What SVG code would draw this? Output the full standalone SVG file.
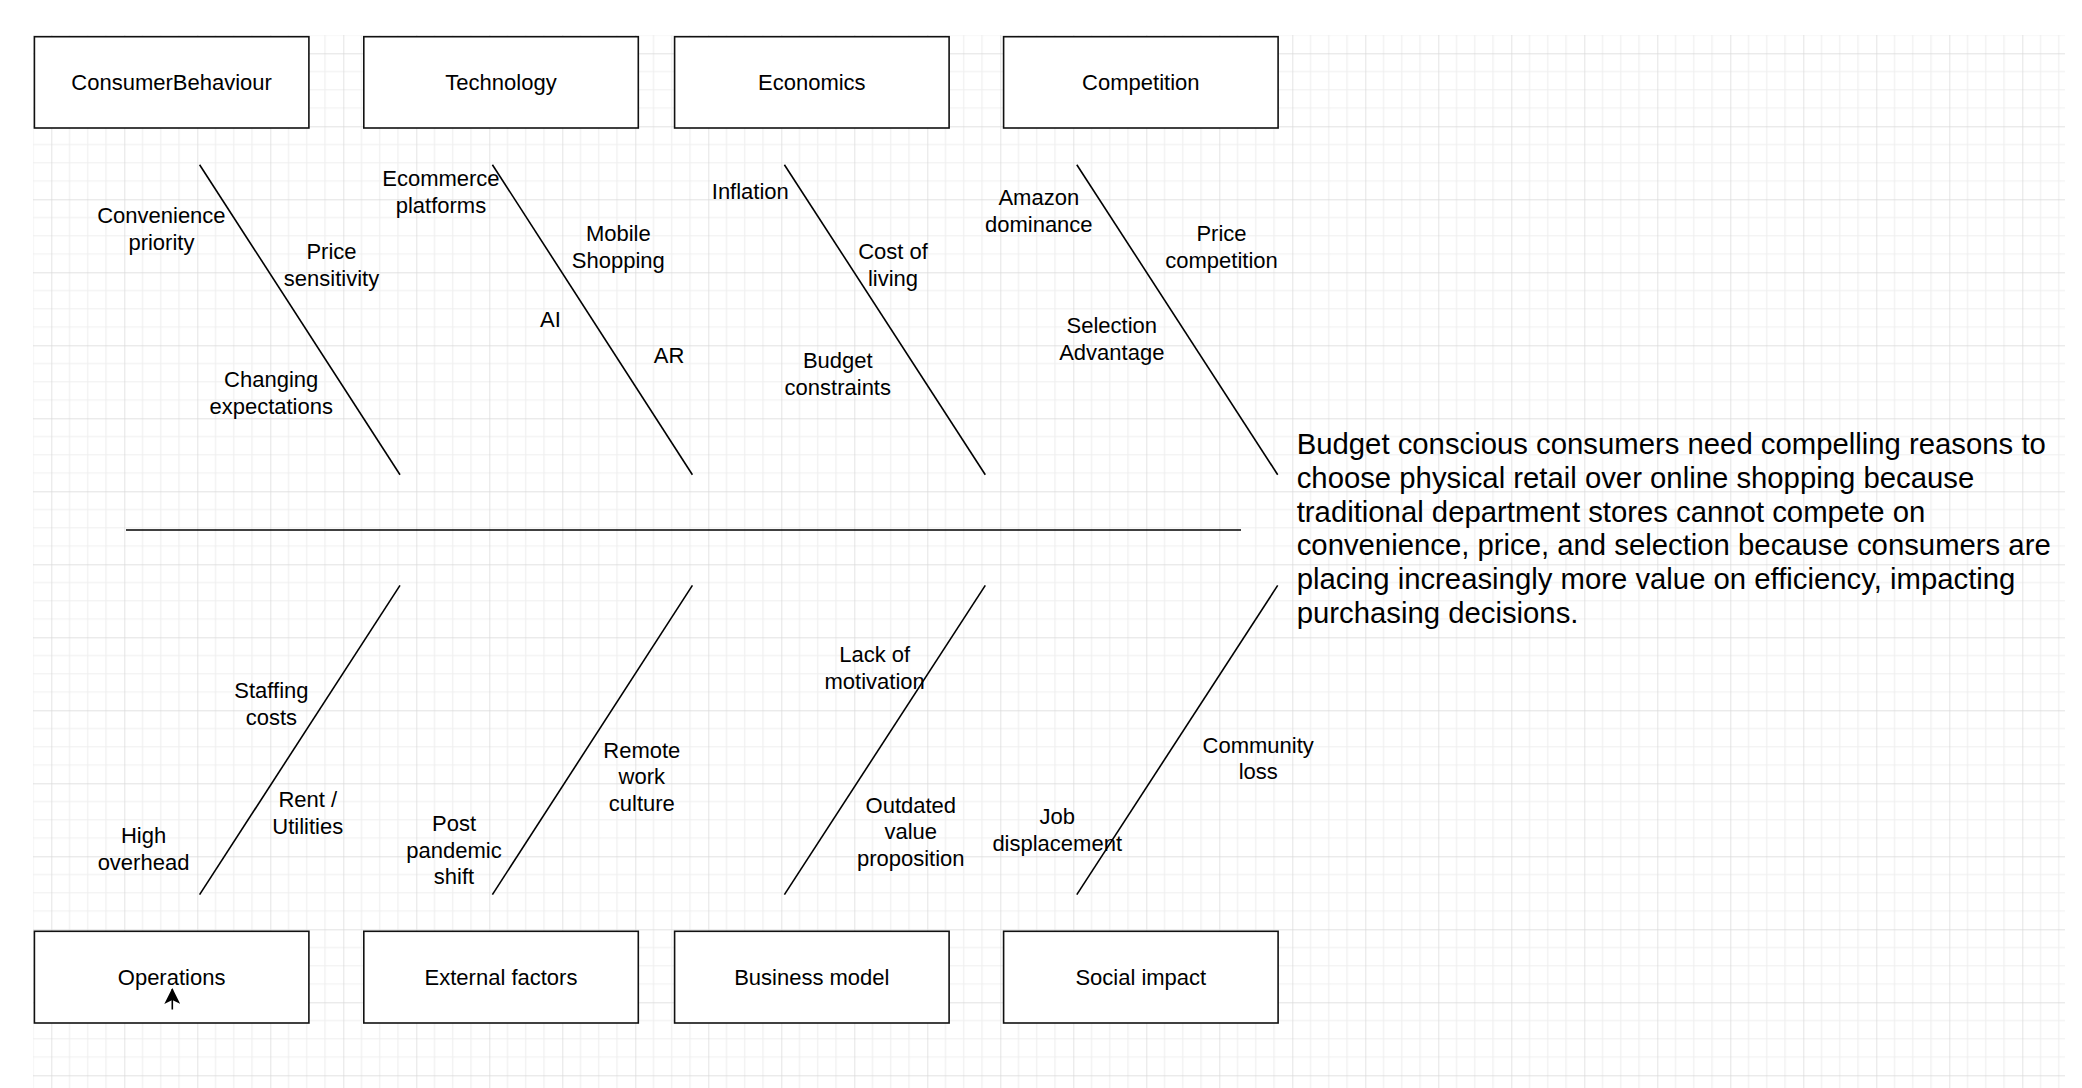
<svg xmlns="http://www.w3.org/2000/svg" width="2082" height="1088" viewBox="0 0 2082 1088">
<defs>
<pattern id="grid" patternUnits="userSpaceOnUse" x="51.3" y="53.3" width="73" height="73">
<path d="M18.25 0V73M36.5 0V73M54.75 0V73M0 18.25H73M0 36.5H73M0 54.75H73" stroke="#efefef" stroke-width="1.2" fill="none"/>
<path d="M0 0V73M0 0H73" stroke="#d9d9d9" stroke-width="1.4" fill="none"/>
</pattern>
<marker id="arr" viewBox="0 0 16 16" refX="15" refY="8" markerWidth="16" markerHeight="16" markerUnits="userSpaceOnUse" orient="auto">
<path d="M0 0 L16 8 L0 16 L4 8 Z" fill="#000"/>
</marker>
</defs>
<style>
.box{fill:#fff;stroke:#111;stroke-width:1.6}
.bl{font-family:"Liberation Sans",Arial,sans-serif;font-size:22px;fill:#000;text-anchor:middle}
.lb{font-family:"Liberation Sans",Arial,sans-serif;font-size:22px;fill:#000;text-anchor:middle}
.bone{stroke:#000;stroke-width:1.6;fill:none}
.main{font-family:"Liberation Sans",Arial,sans-serif;font-size:29.3px;fill:#000}
</style>
<rect x="0" y="0" width="2082" height="1088" fill="#fff"/>
<rect x="33" y="35" width="2032" height="1053" fill="url(#grid)"/>

<g id="connectors">
<line class="bone" x1="126" y1="530" x2="1241" y2="530" stroke-width="2"/>
<line class="bone" x1="199.6" y1="164.7" x2="400" y2="474.7"/>
<line class="bone" x1="492.4" y1="164.7" x2="692.4" y2="474.7"/>
<line class="bone" x1="784.4" y1="164.7" x2="985.3" y2="474.7"/>
<line class="bone" x1="1076.8" y1="164.7" x2="1277.7" y2="474.7"/>
<line class="bone" x1="199.6" y1="894.6" x2="400" y2="585.4"/>
<line class="bone" x1="492.4" y1="894.6" x2="692.4" y2="585.4"/>
<line class="bone" x1="784.4" y1="894.6" x2="985.3" y2="585.4"/>
<line class="bone" x1="1076.8" y1="894.6" x2="1277.7" y2="585.4"/>
</g>

<g id="node-consumerbehaviour"><rect class="box" x="34.4" y="36.7" width="274.5" height="91.3"/><text class="bl" x="171.6" y="89.8">ConsumerBehaviour</text></g>
<g id="node-technology"><rect class="box" x="363.8" y="36.7" width="274.5" height="91.3"/><text class="bl" x="501" y="89.8">Technology</text></g>
<g id="node-economics"><rect class="box" x="674.6" y="36.7" width="274.5" height="91.3"/><text class="bl" x="811.8" y="89.8">Economics</text></g>
<g id="node-competition"><rect class="box" x="1003.6" y="36.7" width="274.5" height="91.3"/><text class="bl" x="1140.8" y="89.8">Competition</text></g>

<g id="node-operations"><rect class="box" x="34.4" y="931.3" width="274.5" height="91.7"/><text class="bl" x="171.6" y="984.5">Operations</text></g>
<g id="node-external"><rect class="box" x="363.8" y="931.3" width="274.5" height="91.7"/><text class="bl" x="501" y="984.5">External factors</text></g>
<g id="node-business"><rect class="box" x="674.6" y="931.3" width="274.5" height="91.7"/><text class="bl" x="811.8" y="984.5">Business model</text></g>
<g id="node-social"><rect class="box" x="1003.6" y="931.3" width="274.5" height="91.7"/><text class="bl" x="1140.8" y="984.5">Social impact</text></g>

<g id="arrow-mark"><line x1="172.3" y1="1009.5" x2="172.3" y2="989" stroke="#000" stroke-width="1.6" marker-end="url(#arr)"/></g>

<g id="labels">
<text class="lb" x="161.4" y="223.3">Convenience<tspan x="161.4" dy="27">priority</tspan></text>
<text class="lb" x="331.5" y="259.3">Price<tspan x="331.5" dy="27">sensitivity</tspan></text>
<text class="lb" x="271.2" y="387">Changing<tspan x="271.2" dy="27">expectations</tspan></text>
<text class="lb" x="440.9" y="185.7">Ecommerce<tspan x="440.9" dy="27">platforms</tspan></text>
<text class="lb" x="618.3" y="240.7">Mobile<tspan x="618.3" dy="27">Shopping</tspan></text>
<text class="lb" x="550.4" y="326.7">AI</text>
<text class="lb" x="669" y="363.3">AR</text>
<text class="lb" x="750.3" y="199.3">Inflation</text>
<text class="lb" x="893" y="259">Cost of<tspan x="893" dy="27">living</tspan></text>
<text class="lb" x="837.8" y="368.3">Budget<tspan x="837.8" dy="27">constraints</tspan></text>
<text class="lb" x="1038.8" y="205">Amazon<tspan x="1038.8" dy="27">dominance</tspan></text>
<text class="lb" x="1221.5" y="240.7">Price<tspan x="1221.5" dy="27">competition</tspan></text>
<text class="lb" x="1111.8" y="332.7">Selection<tspan x="1111.8" dy="27">Advantage</tspan></text>
<text class="lb" x="271.4" y="697.7">Staffing<tspan x="271.4" dy="27">costs</tspan></text>
<text class="lb" x="307.8" y="807">Rent /<tspan x="307.8" dy="27">Utilities</tspan></text>
<text class="lb" x="143.5" y="843.3">High<tspan x="143.5" dy="27">overhead</tspan></text>
<text class="lb" x="454" y="831.3">Post<tspan x="454" dy="26.5">pandemic</tspan><tspan x="454" dy="26.5">shift</tspan></text>
<text class="lb" x="641.8" y="757.6">Remote<tspan x="641.8" dy="26.5">work</tspan><tspan x="641.8" dy="26.5">culture</tspan></text>
<text class="lb" x="874.7" y="661.7">Lack of<tspan x="874.7" dy="27">motivation</tspan></text>
<text class="lb" x="910.8" y="812.6">Outdated<tspan x="910.8" dy="26.5">value</tspan><tspan x="910.8" dy="26.5">proposition</tspan></text>
<text class="lb" x="1057.2" y="824.2">Job<tspan x="1057.2" dy="27">displacement</tspan></text>
<text class="lb" x="1258.2" y="752.7">Community<tspan x="1258.2" dy="26.5">loss</tspan></text>
</g>

<g id="problem-statement">
<text class="main" x="1296.7" y="454">Budget conscious consumers need compelling reasons to<tspan x="1296.7" dy="33.8">choose physical retail over online shopping because</tspan><tspan x="1296.7" dy="33.8">traditional department stores cannot compete on</tspan><tspan x="1296.7" dy="33.8">convenience, price, and selection because consumers are</tspan><tspan x="1296.7" dy="33.8">placing increasingly more value on efficiency, impacting</tspan><tspan x="1296.7" dy="33.8">purchasing decisions.</tspan></text>
</g>
</svg>
